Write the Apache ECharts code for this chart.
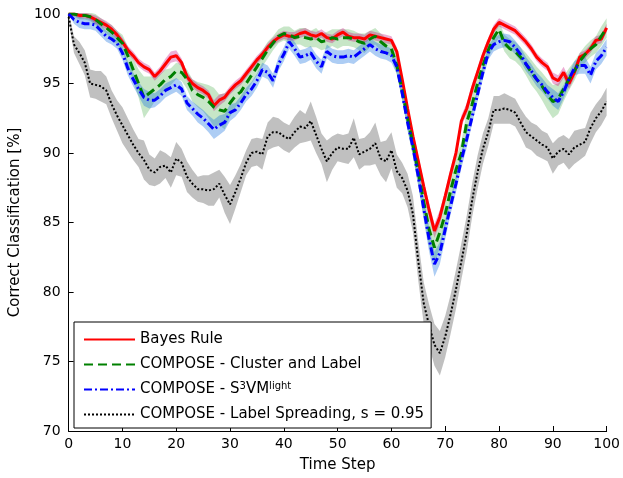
<!DOCTYPE html>
<html>
<head>
<meta charset="utf-8">
<script src="https://cdn.jsdelivr.net/npm/echarts@6/dist/echarts.min.js"></script>
<style>html,body{margin:0;padding:0;background:#fff}#c{width:623px;height:478px}</style>
</head>
<body>
<div id="c"></div>
<script>
// ---- data ----
var timeSteps = [];
for (var i = 0; i <= 100; i++) timeSteps.push(i);

var seriesNames = ['Bayes Rule', 'COMPOSE - Cluster and Label', 'COMPOSE - S3VMlight', 'COMPOSE - Label Spreading, s = 0.95'];

var bayes = [100,100,99.9,99.9,99.8,99.6,99.4,99.2,98.9,98.5,98.0,
  97.4,97.0,96.5,96.2,96.0,95.5,95.9,96.4,96.9,97.0,
  96.5,95.5,95.0,94.7,94.5,94.2,93.4,93.8,94.0,94.5,
  94.9,95.2,95.7,96.2,96.7,97.1,97.6,98.0,98.3,98.5,
  98.4,98.4,98.6,98.7,98.5,98.4,98.6,98.3,98.2,98.5,
  98.7,98.4,98.3,98.3,98.2,98.5,98.4,98.3,98.2,98.1,
  97.3,95.3,93.2,91.2,89.4,87.6,85.9,84.4,85.4,86.9,
  88.5,90.0,92.3,93.2,94.6,95.8,97.0,98.0,98.9,99.4,
  99.2,99.0,98.8,98.4,98.0,97.5,96.9,96.5,96.2,95.4,
  95.2,95.8,95.0,95.8,96.9,97.1,97.5,98.1,98.2,99.0];

var cluster = [100,100,99.9,99.9,99.8,99.6,99.3,99.0,98.7,98.3,97.9,
  97.0,96.0,95.0,94.0,94.3,94.6,94.9,95.3,95.5,95.9,
  95.8,95.3,94.5,94.2,94.0,93.7,93.3,93.1,93.0,93.6,
  94.1,94.4,95.0,95.6,96.2,96.8,97.4,97.9,98.4,98.6,
  98.5,98.3,98.4,98.3,98.2,98.3,98.0,98.1,98.3,98.2,
  98.3,98.3,98.2,98.0,97.9,98.2,98.4,98.0,97.7,97.5,
  96.3,94.5,92.5,90.6,88.6,86.5,84.5,83.2,84.3,85.6,
  87.3,88.8,90.0,92.2,93.5,95.0,96.3,97.4,98.3,98.9,
  97.9,97.5,97.3,96.9,96.4,95.8,95.3,94.8,94.2,93.7,
  93.9,94.6,95.3,95.9,96.6,97.1,97.5,97.8,98.4,99.0];

var s3vm = [100,99.6,99.4,99.3,99.3,99.2,98.8,98.4,98.2,97.9,97.2,
  96.1,95.3,94.6,94.0,93.8,93.8,94.1,94.5,94.7,94.9,
  94.6,93.6,93.2,92.8,92.5,92.1,91.7,92.0,92.2,92.9,
  93.1,93.6,94.2,94.6,95.2,96.0,95.8,95.2,96.4,97.1,
  98.0,97.5,96.9,97.0,97.2,96.6,96.2,97.3,97.0,96.9,
  96.9,97.0,96.9,97.2,97.5,97.8,97.5,97.3,97.2,97.0,
  96.2,94.3,92.2,90.4,88.3,86.0,83.8,82.0,82.8,84.5,
  86.2,87.8,89.5,91.0,92.6,94.2,95.8,97.2,97.8,98.0,
  98.1,98.0,97.6,97.1,96.4,95.9,95.3,94.9,94.4,94.0,
  93.7,94.4,95.3,96.1,96.3,96.3,95.6,96.6,97.0,97.6];

var spreading = [99.8,97.8,97.2,96.5,95.0,94.9,94.8,94.5,93.5,92.7,92.0,
  91.3,90.6,90.0,89.5,88.8,88.6,89.0,89.1,88.6,89.6,
  89.3,88.3,87.8,87.4,87.4,87.3,87.4,87.8,87.0,86.3,
  87.2,88.2,89.3,90.0,90.1,89.9,91.2,91.5,91.5,91.2,
  91.0,91.5,91.9,91.8,92.3,91.3,90.3,89.4,90.0,90.4,
  90.3,90.3,91.1,89.9,90.1,90.3,90.7,89.6,89.4,90.2,
  88.7,88.2,87.3,85.6,82.2,79.2,77.6,76.2,75.6,76.8,
  78.4,80.2,82.2,84.2,86.6,88.6,90.3,91.5,93.1,93.1,
  93.2,93.1,92.9,92.2,91.5,91.2,90.9,90.6,90.4,89.6,
  90.1,90.3,89.9,90.4,90.6,90.8,91.8,92.5,93.0,93.7];

// half-widths of the shaded bands
var bayesBand = [0,0.1,0.2,0.2,0.2,0.3,0.3,0.3,0.3,0.3,0.3,
  0.3,0.3,0.3,0.3,0.3,0.3,0.3,0.4,0.4,0.4,
  0.3,0.3,0.3,0.3,0.3,0.3,0.4,0.4,0.3,0.3,
  0.3,0.3,0.3,0.3,0.3,0.3,0.3,0.3,0.3,0.3,
  0.3,0.3,0.3,0.3,0.3,0.3,0.3,0.3,0.3,0.3,
  0.3,0.3,0.3,0.3,0.3,0.3,0.3,0.3,0.3,0.3,
  0.3,0.3,0.3,0.4,0.4,0.4,0.5,0.5,0.5,0.4,
  0.4,0.4,0.4,0.4,0.4,0.3,0.3,0.3,0.3,0.3,
  0.3,0.3,0.3,0.3,0.3,0.3,0.3,0.3,0.3,0.4,
  0.4,0.4,0.4,0.4,0.3,0.3,0.3,0.3,0.3,0.3];

var clusterBand = [0,0.2,0.3,0.3,0.3,0.4,0.4,0.4,0.5,0.5,0.6,
  0.7,0.8,1.0,1.5,1.2,0.9,0.8,0.7,0.6,0.6,
  0.6,0.7,0.8,0.9,1.0,1.2,1.4,1.1,1.3,1.0,
  0.8,0.7,0.7,0.6,0.6,0.6,0.6,0.5,0.5,0.5,
  0.6,0.5,0.6,0.7,0.6,0.7,0.6,0.6,0.6,0.7,
  0.6,0.6,0.6,0.6,0.7,0.6,0.6,0.6,0.6,0.6,
  0.7,0.7,0.8,0.9,1.0,1.1,1.2,1.2,1.1,1.0,
  0.9,0.9,0.8,0.8,0.7,0.7,0.6,0.6,0.6,0.6,
  0.6,0.7,0.7,0.7,0.8,0.9,0.9,1.0,1.1,1.2,
  1.1,0.9,0.8,0.7,0.6,0.6,0.6,0.6,0.7,0.7];

var s3vmBand = [0,0.3,0.4,0.4,0.4,0.4,0.4,0.4,0.4,0.4,0.5,
  0.5,0.5,0.5,0.6,0.6,0.5,0.5,0.5,0.5,0.5,
  0.5,0.5,0.5,0.6,0.6,0.6,0.7,0.7,0.6,0.6,
  0.5,0.5,0.5,0.5,0.5,0.5,0.5,0.5,0.5,0.5,
  0.5,0.5,0.5,0.5,0.5,0.5,0.5,0.5,0.5,0.5,
  0.5,0.5,0.5,0.5,0.5,0.5,0.5,0.5,0.5,0.5,
  0.5,0.5,0.6,0.6,0.7,0.8,0.9,0.9,0.8,0.7,
  0.6,0.6,0.6,0.6,0.5,0.5,0.5,0.5,0.5,0.5,
  0.5,0.5,0.5,0.5,0.5,0.5,0.5,0.5,0.5,0.6,
  0.6,0.5,0.5,0.5,0.6,0.6,0.6,0.6,0.6,0.6];

var spreadingBand = [0.3,0.6,0.8,0.9,1.0,1.0,1.1,1.0,1.0,1.1,1.3,
  1.2,1.1,1.0,1.4,1.1,1.0,1.2,0.9,1.1,1.2,
  1.0,1.1,1.0,0.9,1.0,1.1,1.2,1.0,1.3,1.4,
  1.2,1.0,0.9,1.0,1.0,1.1,1.0,1.1,1.0,1.0,
  1.0,1.1,1.2,1.0,1.4,1.3,1.1,1.5,1.2,1.0,
  1.0,1.1,1.4,1.1,1.0,1.2,1.5,1.2,1.5,1.3,
  1.2,1.1,1.2,1.3,1.4,1.5,1.5,1.5,1.6,1.5,
  1.4,1.4,1.3,1.3,1.2,1.2,1.1,1.0,1.0,1.0,
  1.1,1.0,1.0,1.0,1.1,1.0,1.1,1.0,1.0,1.1,
  1.0,1.0,1.1,1.2,1.1,1.0,1.1,1.0,1.0,1.0];

var yTicks = [70, 75, 80, 85, 90, 95, 100];

// ---- chart ----
function bandSeries(id, mean, half, color) {
  var lo = mean.map(function (v, i) { return +(v - half[i]).toFixed(3); });
  var span = half.map(function (h) { return +(2 * h).toFixed(3); });
  return [
    { name: id + '_lo', type: 'line', data: lo, stack: id, symbol: 'none', silent: true,
      lineStyle: { opacity: 0 }, z: 1 },
    { name: id + '_hi', type: 'line', data: span, stack: id, symbol: 'none', silent: true,
      lineStyle: { opacity: 0 }, areaStyle: { color: color, opacity: 1 }, z: 1 }
  ];
}

var series = []
  .concat(bandSeries('g', spreading, spreadingBand, 'rgba(140,140,140,0.55)'))
  .concat(bandSeries('c', cluster, clusterBand, 'rgba(0,140,0,0.22)'))
  .concat(bandSeries('b', s3vm, s3vmBand, 'rgba(0,100,220,0.32)'))
  .concat(bandSeries('r', bayes, bayesBand, 'rgba(200,0,120,0.32)'))
  .concat([
    { name: seriesNames[0], type: 'line', data: bayes, symbol: 'none', z: 3,
      itemStyle: { color: '#ff0000' }, lineStyle: { color: '#ff0000', width: 3 } },
    { name: seriesNames[1], type: 'line', data: cluster, symbol: 'none', z: 3,
      itemStyle: { color: '#008000' }, lineStyle: { color: '#008000', width: 3, type: [9, 5] } },
    { name: seriesNames[2], type: 'line', data: s3vm, symbol: 'none', z: 3,
      itemStyle: { color: '#0000ff' }, lineStyle: { color: '#0000ff', width: 3, type: [8, 3, 2, 3] } },
    { name: seriesNames[3], type: 'line', data: spreading, symbol: 'none', z: 3,
      itemStyle: { color: '#000000' }, lineStyle: { color: '#000000', width: 2, type: [2, 2] } }
  ]);

var FONT = 'DejaVu Sans';
var chart = echarts.init(document.getElementById('c'), null, { renderer: 'canvas' });
chart.setOption({
  animation: false,
  backgroundColor: '#ffffff',
  grid: { left: 66, top: 14, width: 543, height: 418, containLabel: false },
  xAxis: {
    type: 'category', data: timeSteps, boundaryGap: false,
    name: 'Time Step', nameLocation: 'middle', nameGap: 27,
    nameTextStyle: { fontFamily: FONT, fontSize: 15, color: '#000' },
    axisLine: { lineStyle: { color: '#000', width: 1 } },
    axisTick: { inside: true, length: 5, interval: function (i) { return i % 10 === 0; }, lineStyle: { color: '#000' } },
    axisLabel: { interval: function (i) { return i % 10 === 0; }, margin: 6, fontFamily: FONT, fontSize: 14, color: '#000' },
    splitLine: { show: false }
  },
  yAxis: {
    type: 'value', min: yTicks[0], max: yTicks[yTicks.length - 1], interval: 5,
    name: 'Correct Classification [%]', nameLocation: 'middle', nameGap: 42,
    nameTextStyle: { fontFamily: FONT, fontSize: 15, color: '#000' },
    axisLine: { show: true, lineStyle: { color: '#000', width: 1 } },
    axisTick: { show: true, inside: true, length: 5, lineStyle: { color: '#000' } },
    axisLabel: { margin: 8, fontFamily: FONT, fontSize: 14, color: '#000' },
    splitLine: { show: false }
  },
  legend: {
    show: true,
    data: seriesNames.slice(), orient: 'vertical', left: 74, top: 322,
    backgroundColor: '#ffffff', borderColor: '#000', borderWidth: 1,
    padding: [9, 7, 5, 9], itemGap: 8, itemWidth: 51, itemHeight: 14,
    itemStyle: { opacity: 0 },
    textStyle: { fontFamily: FONT, fontSize: 15, color: '#000', lineHeight: 17,
      rich: { sup: { fontFamily: FONT, fontSize: 10, verticalAlign: 'top', lineHeight: 10, color: '#000' } } },
    formatter: function (n) {
      if (n === seriesNames[2]) return 'COMPOSE - S{sup|3}VM{sup|light}';
      return n;
    },
    selectedMode: false,
    z: 10
  },
  series: series
});
</script>
</body>
</html>
